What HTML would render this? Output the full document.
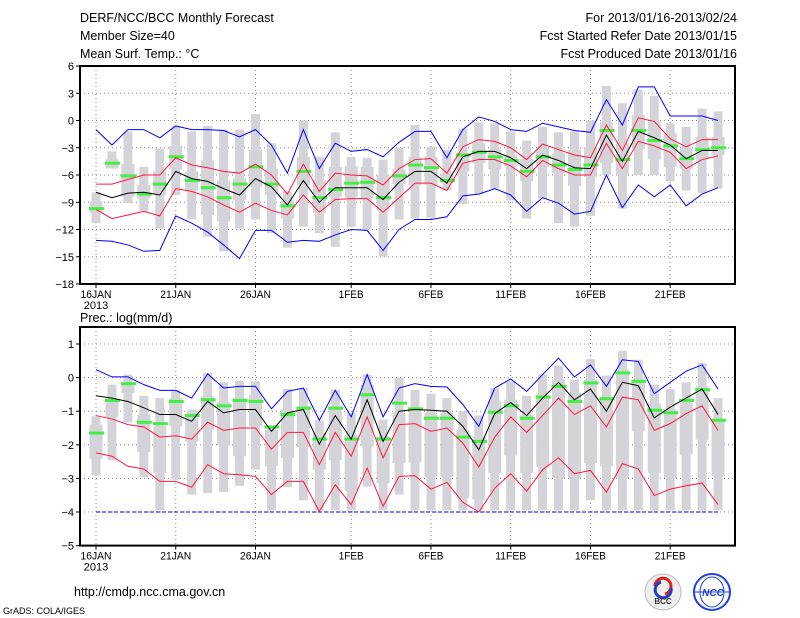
<!DOCTYPE html>
<html><head><meta charset="utf-8"><style>
body{margin:0;background:#fff;}
svg{display:block;font-family:"Liberation Sans",sans-serif;}
</style></head><body>
<svg id="c" width="800" height="618" viewBox="0 0 800 618"></svg>
<script>
const days=["16JAN","21JAN","26JAN","1FEB","6FEB","11FEB","16FEB","21FEB"];
const dayIdx=[0,5,10,16,21,26,31,36];
// Temperature panel
const tUB=[-1.0,-2.7,-1.0,-1.0,-1.9,-0.6,-1.0,-1.0,-1.1,-1.8,-1.0,-2.7,-5.8,-1.0,-5.3,-2.5,-3.4,-3.2,-4.0,-2.4,-1.2,-1.2,-4.1,-1.0,0.4,-0.1,-1.0,-1.2,-0.3,-0.7,-1.1,-1.3,2.3,-0.5,3.7,3.7,0.5,0.5,0.5,0];
const tLB=[-13.2,-13.3,-13.7,-14.4,-14.3,-10.5,-11.3,-12.3,-13.7,-15.2,-12.1,-12.1,-13.4,-13.2,-13.3,-12.6,-12.0,-12.1,-14.3,-12.0,-10.9,-10.9,-10.6,-8.3,-8.1,-7.5,-8.2,-10.0,-8.5,-9.1,-10.3,-10.0,-6.0,-9.6,-7.1,-8.4,-7.1,-9.4,-8.1,-7.4];
const tUR=[-7.0,-7.0,-6.5,-6.0,-6.0,-4.1,-4.9,-5.2,-5.6,-5.8,-4.8,-6.0,-8.1,-4.8,-7.8,-5.8,-6.0,-6.1,-7.1,-5.3,-4.3,-4.2,-5.8,-2.9,-2.1,-2.3,-3.0,-4.3,-2.6,-3.2,-3.8,-4.1,-0.5,-3.3,0.3,-0.1,-2.0,-2.9,-2.1,-2.1];
const tMean=[-7.9,-8.5,-8.0,-7.9,-8.2,-5.6,-6.4,-6.7,-7.5,-8.2,-6.4,-7.3,-9.3,-6.6,-9.0,-7.4,-7.4,-7.4,-8.7,-6.8,-5.6,-5.6,-6.9,-4.0,-3.4,-3.4,-4.1,-5.3,-3.8,-4.4,-5.2,-5.3,-1.6,-4.5,-1.2,-1.9,-2.7,-4.2,-3.3,-3.3];
const tLR=[-9.8,-10.8,-10.4,-10.0,-10.5,-7.5,-7.8,-8.4,-9.3,-10.1,-9.1,-9.9,-10.4,-8.2,-10.1,-8.7,-8.6,-8.6,-10.1,-8.5,-6.9,-6.9,-7.7,-4.7,-4.3,-4.3,-5.0,-6.2,-4.4,-5.3,-6.0,-6.0,-2.5,-5.3,-2.3,-2.8,-3.5,-5.3,-4.3,-3.9];
const tObs=[-9.7,-4.7,-6.1,-8.1,-7.0,-4.0,-6.6,-7.4,-8.5,-7.0,-5.1,-7.0,-9.4,-5.6,-8.5,-7.6,-6.9,-6.8,-8.5,-6.1,-4.9,-5.2,-6.6,-3.8,-3.5,-4.0,-4.4,-5.6,-4.0,-4.9,-5.4,-4.9,-1.1,-4.3,-1.1,-2.2,-2.8,-4.2,-3.2,-3.0];
const tMax=[-7.9,-3.4,-1.2,-5.1,-3.1,-0.6,-1.2,-0.6,-1.0,-1.0,0.7,-2.5,-7.8,0,-4.0,-1.3,-4.0,-4.1,-4.3,-3.0,-0.5,-2.9,-3.2,-0.9,-0.2,-0.3,-1.2,-2.2,-0.7,-1.3,-1.2,0,3.8,1.9,3.4,2.7,-0.3,-0.7,1.3,1.0];
const tMin=[-11.3,-5.1,-9.1,-10.0,-11.9,-8.2,-10.9,-12.8,-14.4,-11.9,-10.9,-12.4,-14.0,-11.7,-12.4,-13.9,-11.7,-12.0,-15.0,-10.9,-10.8,-10.7,-7.7,-9.2,-8.1,-7.5,-8.8,-10.8,-8.6,-11.3,-11.7,-10.5,-6.0,-9.7,-6.0,-6.0,-6.7,-7.7,-8.0,-7.5];
const tQ3=[-8.9,-4.3,-4.8,-7.1,-5.6,-2.8,-5.6,-4.4,-6.6,-6.4,-3.2,-5.3,-8.8,-4.0,-6.6,-5.1,-5.0,-5.1,-6.0,-5.4,-4.0,-4.0,-5.8,-3.6,-2.5,-3.2,-3.8,-4.2,-3.1,-3.6,-3.2,-2.9,-0.2,-2.5,0.6,-0.1,-1.4,-3.1,-1.8,-1.8];
const tQ1=[-10.2,-5.3,-8.4,-8.6,-8.2,-5.4,-7.7,-10.4,-11.1,-8.8,-7.3,-8.2,-10.8,-7.1,-10.2,-8.4,-8.4,-8.6,-9.9,-7.0,-7.1,-7.1,-6.9,-5.6,-4.7,-5.4,-5.0,-6.7,-5.1,-5.8,-7.2,-6.2,-4.7,-5.9,-3.1,-4.3,-5.1,-5.3,-4.3,-3.8];
// Precipitation panel
const pUB=[0.24,0.02,0.02,-0.21,-0.38,-0.38,-0.61,0.11,-0.31,-0.26,-0.26,-0.93,-0.41,-0.31,-1.27,-0.38,-1.17,0.09,-1.17,-0.31,-0.18,-0.26,-0.28,-0.8,-1.45,-0.31,-0.04,-0.41,0.09,0.58,0.02,0.38,-0.26,0.53,0.48,-0.48,-0.14,0.19,0.38,-0.34];
const pLB=[-4,-4,-4,-4,-4,-4,-4,-4,-4,-4,-4,-4,-4,-4,-4,-4,-4,-4,-4,-4,-4,-4,-4,-4,-4,-4,-4,-4,-4,-4,-4,-4,-4,-4,-4,-4,-4,-4,-4,-4];
const pUR=[-1.13,-1.23,-1.4,-1.47,-1.77,-1.73,-1.83,-1.33,-1.57,-1.5,-1.5,-2.13,-1.63,-1.63,-2.59,-1.63,-2.34,-1.17,-2.39,-1.4,-1.37,-1.6,-1.5,-1.95,-2.66,-1.77,-1.17,-1.63,-1.13,-0.61,-1.1,-0.84,-1.47,-0.58,-0.66,-1.57,-1.37,-1.07,-0.84,-1.57];
const pMean=[-0.54,-0.61,-0.71,-0.9,-1.1,-1.1,-1.3,-0.71,-1.05,-0.95,-0.95,-1.6,-1.05,-0.95,-1.98,-1.13,-1.83,-0.66,-1.9,-1.0,-0.95,-0.97,-1.0,-1.45,-2.15,-1.07,-0.74,-1.13,-0.61,-0.14,-0.66,-0.34,-1.0,-0.14,-0.24,-1.2,-0.88,-0.61,-0.34,-1.1];
const pLR=[-2.24,-2.34,-2.64,-2.72,-3.09,-3.09,-3.26,-2.59,-2.86,-2.89,-2.94,-3.48,-3.09,-3.09,-3.98,-3.19,-3.78,-2.69,-3.83,-2.94,-2.92,-3.32,-3.12,-3.71,-4.0,-3.29,-2.86,-3.38,-2.74,-2.39,-2.86,-2.76,-3.41,-2.56,-2.72,-3.51,-3.32,-3.22,-3.14,-3.78];
const pObs=[-1.65,-0.68,-0.18,-1.33,-1.37,-0.71,-1.13,-0.66,-0.84,-0.68,-0.71,-1.47,-1.1,-0.91,-1.83,-0.91,-1.83,-0.51,-1.83,-0.76,-0.93,-1.21,-1.21,-1.77,-1.9,-1.03,-0.84,-1.21,-0.58,-0.26,-0.71,-0.16,-0.63,0.14,-0.11,-0.97,-1.05,-0.68,-0.36,-1.27];
const pMax=[-1.15,-0.21,0.09,-0.54,-0.61,-0.36,-0.95,0.14,-0.14,-0.09,-0.11,-1.45,-0.34,-0.31,-1.27,-0.36,-1.05,0.09,-1.25,-0.01,-0.36,-0.48,-0.61,-1.0,-1.13,-0.31,-0.11,-0.54,0.09,0.36,-0.06,0.55,0.06,0.8,0.53,-0.21,-0.34,-0.14,0.43,-0.61];
const pMin=[-2.91,-2.46,-1.33,-2.97,-3.95,-3.04,-3.48,-3.44,-3.41,-3.22,-2.74,-3.95,-3.26,-3.65,-3.95,-3.95,-3.95,-3.24,-3.95,-3.48,-3.95,-3.95,-3.95,-3.95,-3.95,-3.95,-3.95,-3.95,-3.95,-3.95,-3.95,-3.65,-3.95,-3.95,-3.95,-3.95,-3.95,-3.95,-3.95,-3.95];
const pQ3=[-1.4,-0.7,-0.16,-1.1,-1.45,-0.61,-1.2,-0.56,-0.74,-0.61,-0.51,-1.55,-0.95,-0.86,-1.65,-0.86,-1.7,-0.21,-1.75,-1.05,-0.9,-1.05,-1.05,-1.55,-1.75,-0.71,-0.66,-1.1,-0.51,-0.06,-0.46,-0.06,-0.61,0.24,-0.06,-0.76,-0.95,-0.76,-0.26,-1.25];
const pQ1=[-2.42,-1.17,-0.46,-2.22,-2.84,-1.45,-1.9,-1.55,-2.0,-2.34,-1.45,-2.64,-2.39,-2.07,-2.74,-2.46,-3.38,-2.05,-3.14,-2.54,-2.52,-2.94,-2.94,-3.58,-3.63,-2.84,-2.32,-2.84,-2.66,-2.99,-2.99,-2.54,-2.64,-2.99,-1.6,-2.84,-2.99,-2.29,-1.85,-2.94];

const NS="http://www.w3.org/2000/svg";
const svg=document.getElementById('c');
function mk(tag,at,parent){const e=document.createElementNS(NS,tag);for(const k in at)e.setAttribute(k,at[k]);(parent||svg).appendChild(e);return e;}
const X0=80,X1=735,D0=96,DW=15.95;
const xs=i=>D0+i*DW;
function txt(s,x,y,at,parent){const t=mk('text',Object.assign({x:x,y:y,'font-size':12,fill:'#000'},at||{}),parent);t.textContent=s;return t;}

function panel(name,top,bottom,vmax,vmin,ticks,yref,vref,ppu,d){
  const ys=v=>yref+(vref-v)*ppu;
  const g=mk('g',{});
  
  
  ticks.forEach(t=>{const y=ys(t);if(y>top+1&&y<bottom-1){const l=mk('line',{x1:X0,x2:X1,y1:y,y2:y,stroke:'#888','stroke-dasharray':'1,3','stroke-width':1},g);}});
  dayIdx.forEach(i=>{const l=mk('line',{x1:xs(i),x2:xs(i),y1:top,y2:bottom,stroke:'#888','stroke-dasharray':'1,3','stroke-width':1},g);});
  for(let i=0;i<40;i++){
    const x=xs(i);
    const a=mk('rect',{x:x-4.5,y:ys(d.max[i]),width:9,height:Math.max(1,ys(d.min[i])-ys(d.max[i])),fill:'#d4d4d8'},g);
    
    const b=mk('rect',{x:x-6.5,y:ys(d.q3[i]),width:13,height:Math.max(1,ys(d.q1[i])-ys(d.q3[i])),fill:'#d4d4d8'},g);
    
  }
  for(let i=0;i<40;i++){
    const o=mk('rect',{x:xs(i)-7,y:ys(d.obs[i])-1.5,width:15,height:3,fill:'#44ee44'},g);
    
  }
  const line=(arr,col,nm,dash)=>{const p=mk('polyline',{points:arr.map((v,i)=>xs(i)+','+ys(v)).join(' '),fill:'none',stroke:col,'stroke-width':1},g);if(dash)p.setAttribute('stroke-dasharray',dash);};
  line(d.ub,'#0000ff','upper-bound-line');
  line(d.lb,'#0000ff','lower-bound-line',d.lbDash);
  line(d.ur,'#ff1744','upper-red-line');
  line(d.lr,'#ff1744','lower-red-line');
  line(d.mean,'#000','ensemble-mean-line');
  const f=mk('rect',{x:X0,y:top,width:X1-X0,height:bottom-top,fill:'none',stroke:'#000','stroke-width':2},g);
  
  ticks.forEach(t=>{const y=ys(t);mk('line',{x1:X0-4,x2:X0,y1:y,y2:y,stroke:'#000'},g);const tl=txt(String(t).replace('-','\u2212'),X0-6,y+4,{'text-anchor':'end','font-size':11},g);});
  days.forEach((s,k)=>{const x=xs(dayIdx[k]);mk('line',{x1:x,x2:x,y1:bottom,y2:bottom+4,stroke:'#000'},g);const tl=txt(s,x,bottom+14,{'text-anchor':'middle','font-size':11,textLength:s.length*6.2,lengthAdjust:'spacingAndGlyphs'},g);});
  const yr=txt('2013',xs(0),bottom+25,{'text-anchor':'middle','font-size':11},g);
}
panel('temperature-panel',66,284,6,-18,[6,3,0,-3,-6,-9,-12,-15,-18],66,6,218/24,
  {ub:tUB,lb:tLB,ur:tUR,lr:tLR,mean:tMean,obs:tObs,max:tMax,min:tMin,q3:tQ3,q1:tQ1});
panel('precipitation-panel',327,545.6,1.5,-5,[1,0,-1,-2,-3,-4,-5],344,1,33.6,
  {ub:pUB,lb:pLB,ur:pUR,lr:pLR,mean:pMean,obs:pObs,max:pMax,min:pMin,q3:pQ3,q1:pQ1,lbDash:'4,2'});

const hdr=[["DERF/NCC/BCC Monthly Forecast",80,22,'start','title'],["Member Size=40",80,40,'start','member-size'],["Mean Surf. Temp.: \u00b0C",80,58,'start','temp-panel-title'],
["For 2013/01/16-2013/02/24",737,22,'end','forecast-period'],["Fcst Started Refer Date 2013/01/15",737,40,'end','start-date'],["Fcst Produced Date 2013/01/16",737,58,'end','produced-date'],
["Prec.: log(mm/d)",80,322,'start','prec-panel-title'],["http://cmdp.ncc.cma.gov.cn",74,596,'start','website-url'],["GrADS: COLA/IGES",3,614,'start','grads-credit']];
hdr.forEach(h=>{const t=txt(h[0],h[1],h[2],{'text-anchor':h[3],'font-size':h[4]=='grads-credit'?9:12.5});});

const l1=mk('g',{});
mk('circle',{cx:663,cy:592,r:18,fill:'#eee',stroke:'#bbb'},l1);
mk('path',{d:'M655 586 a8 8 0 1 1 10 8',fill:'none',stroke:'#e02020','stroke-width':3},l1);
mk('path',{d:'M671 588 a8 8 0 1 1 -10 -6',fill:'none',stroke:'#2040c0','stroke-width':3},l1);
txt('BCC',663,604,{'text-anchor':'middle','font-size':8,'font-weight':'bold',fill:'#333'},l1);
const l2=mk('g',{});
mk('circle',{cx:712,cy:592,r:18,fill:'#fff',stroke:'#2040e0','stroke-width':2},l2);
mk('ellipse',{cx:712,cy:592,rx:12,ry:15,fill:'none',stroke:'#2040e0'},l2);
mk('line',{x1:694,x2:730,y1:592,y2:592,stroke:'#2040e0'},l2);
txt('NCC',713,596,{'text-anchor':'middle','font-size':10,'font-weight':'bold','font-style':'italic',fill:'#2040e0'},l2);
</script>
</body></html>
